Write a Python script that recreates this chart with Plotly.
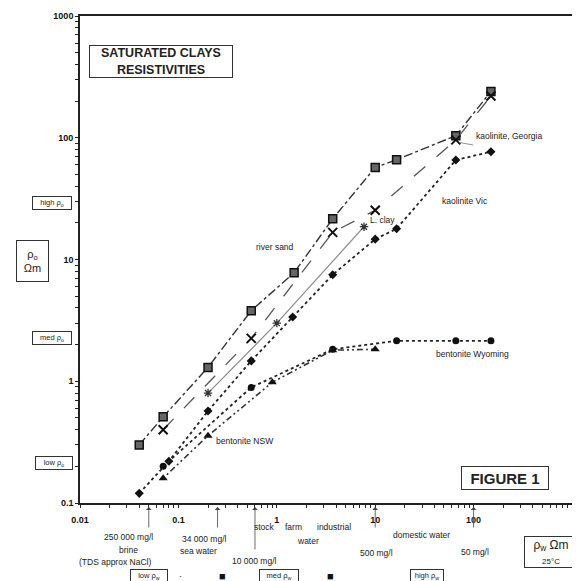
import plotly.graph_objects as go
import math

# ---------------- data ----------------
x_sand = [0.04, 0.07, 0.2, 0.55, 1.5, 3.7, 10, 16.5, 66, 150]
y_sand = [0.30, 0.51, 1.3, 3.8, 7.8, 21.6, 57, 66, 104, 240]

x_geo = [0.07, 0.55, 3.7, 10, 66, 150]
y_geo = [0.40, 2.25, 16.7, 25.4, 96, 220]

x_lclay = [0.2, 1.0, 7.7]
y_lclay = [0.8, 3.0, 18.6]

x_kvic = [0.04, 0.08, 0.2, 0.55, 1.45, 3.7, 10, 16.5, 66, 150]
y_kvic = [0.12, 0.22, 0.57, 1.47, 3.37, 7.5, 14.7, 17.9, 65.6, 76.7]

x_bwy = [0.07, 0.55, 3.7, 16.5, 66, 150]
y_bwy = [0.20, 0.89, 1.83, 2.15, 2.15, 2.15]

x_bnsw = [0.07, 0.2, 0.9, 3.7, 10]
y_bnsw = [0.16, 0.357, 0.98, 1.8, 1.83]

x_decades = [0.01, 0.1, 1, 10, 100, 1000]
x_decade_labels = ["0.01", "0.1", "1", "10", "100", "1000"]
y_decades = [0.1, 1, 10, 100, 1000]
y_decade_labels = ["0.1", "1", "10", "100", "1000"]

# salinity markers on the water-resistivity axis
arrow_x = [0.05, 0.25, 0.6, 10, 100]
arrow_long = [False, False, True, False, False]

FONT = "Liberation Sans, Arial, sans-serif"

# the page body adds an 8 px offset; the figure is sized so the plot
# lands where it is in the reference (580 x 581 window)
OFF = 8
W, H = 580 - OFF, 581 - OFF
ML, MR, MT, MB = 80 - OFF, 8, 16 - OFF, 78
PW = W - ML - MR
PH = H - MT - MB
AX_L = 80          # page px of plot left
AX_B = 503         # page px of plot bottom


def PX(px):
    return (px - AX_L) / PW


def PY(py):
    return (AX_B - py) / PH


def minor_vals(decades):
    return [d * m for d in decades[:-1] for m in range(2, 10)]


fig = go.Figure()

fig.add_trace(go.Scatter(
    x=x_sand, y=y_sand, mode="lines+markers", name="river sand",
    line=dict(color="#333333", width=1.4, dash="dashdot"),
    marker=dict(symbol="square", size=8, color="#666666",
                line=dict(color="#111111", width=1.5))))

fig.add_trace(go.Scatter(
    x=x_geo, y=y_geo, mode="lines+markers", name="kaolinite, Georgia",
    line=dict(color="#555555", width=1.3, dash="longdash"),
    marker=dict(symbol="x-thin-open", size=9, color="#111111",
                line=dict(color="#111111", width=2))))

fig.add_trace(go.Scatter(
    x=x_lclay, y=y_lclay, mode="lines+markers", name="L. clay",
    line=dict(color="#8a8a8a", width=1.2),
    marker=dict(symbol="asterisk-open", size=7, color="#333333",
                line=dict(color="#333333", width=1.3))))

fig.add_trace(go.Scatter(
    x=x_kvic, y=y_kvic, mode="lines+markers", name="kaolinite Vic",
    line=dict(color="#222222", width=1.8, dash="dot"),
    marker=dict(symbol="diamond", size=7, color="#111111")))

fig.add_trace(go.Scatter(
    x=x_bwy, y=y_bwy, mode="lines+markers", name="bentonite Wyoming",
    line=dict(color="#222222", width=1.8, dash="dot"),
    marker=dict(symbol="circle", size=7, color="#111111")))

fig.add_trace(go.Scatter(
    x=x_bnsw, y=y_bnsw, mode="lines+markers", name="bentonite NSW",
    line=dict(color="#333333", width=1.6, dash="2px,3px,2px,3px,6px,3px"),
    marker=dict(symbol="triangle-up", size=8, color="#111111")))

axis_common = dict(
    type="log", showgrid=False, zeroline=False,
    showline=True, linecolor="#222222", linewidth=1.6, mirror=True,
    ticks="outside", ticklen=3, tickwidth=1, tickcolor="#222222",
    tickmode="array", tickangle=0, automargin=False,
    tickfont=dict(family=FONT, size=9, color="#111111", weight="bold"),
)

fig.update_xaxes(range=[-2, 3], tickvals=x_decades, ticktext=x_decade_labels,
                 ticklabelstandoff=4,
                 minor=dict(tickmode="array", tickvals=minor_vals(x_decades),
                            ticks="outside", ticklen=3, tickwidth=1,
                            tickcolor="#222222", showgrid=False),
                 **axis_common)
fig.update_yaxes(range=[-1, 3], tickvals=y_decades, ticktext=y_decade_labels,
                 minor=dict(tickmode="array", tickvals=minor_vals(y_decades),
                            ticks="outside", ticklen=3, tickwidth=1,
                            tickcolor="#222222", showgrid=False),
                 **axis_common)

ann = []


def text(px, py, s, size=9, bold=False, border=False, color="#222222",
         xanchor="center", yanchor="middle", pad=2, w=None, h=None, align="center"):
    d = dict(x=PX(px), y=PY(py), xref="paper", yref="paper", text=s,
             showarrow=False, xanchor=xanchor, yanchor=yanchor, align=align,
             font=dict(family=FONT, size=size, color=color,
                       weight="bold" if bold else "normal"))
    if border:
        d.update(bordercolor="#333333", borderwidth=1, borderpad=pad,
                 bgcolor="white")
    if w:
        d["width"] = w
    if h:
        d["height"] = h
    ann.append(d)


# title / figure boxes
text(161, 61.5, "SATURATED CLAYS<br>RESISTIVITIES", size=12.5, bold=True,
     border=True, w=140, h=29, pad=1)
text(505, 477.5, "FIGURE 1", size=15, bold=True, border=True, w=82, h=18, pad=2)

# series labels
text(275, 247, "river sand", size=8.5)
text(382, 220, "L. clay", size=8.5)
text(509, 136, "kaolinite, Georgia", size=8.5)
text(465, 201, "kaolinite Vic", size=8.5)
text(472, 354, "bentonite Wyoming", size=8.5)
text(244, 441, "bentonite NSW", size=8.5)

# y-axis side boxes
text(52, 203.5, "high ρ<sub>o</sub>", size=7.5, border=True, w=36, h=10, pad=1)
text(51.5, 337.5, "med ρ<sub>o</sub>", size=7.5, border=True, w=36, h=10, pad=1)
text(53.5, 462.5, "low ρ<sub>o</sub>", size=7.5, border=True, w=34, h=10, pad=1)
text(32.5, 260.5, "ρ<sub>o</sub><br>Ωm", size=11, border=True, w=29, h=38, pad=1)

# x-axis unit box
text(551, 552, "ρ<sub>w</sub> Ωm<br><span style='font-size:8px'>25°C</span>",
     size=12, border=True, w=50, h=28, pad=1)

# salinity notes below the axis
text(128, 537, "250 000 mg/l", size=8.5)
text(128, 549.5, "brine", size=8.5)
text(115, 562, "(TDS approx NaCl)", size=8.5)
text(204, 538.5, "34 000 mg/l", size=8.5)
text(198, 551, "sea water", size=8.5)
text(254, 561, "10 000 mg/l", size=8.5)
text(264, 527, "stock", size=8.5)
text(293, 527, "farm", size=8.5)
text(334, 527, "industrial", size=8.5)
text(308, 541, "water", size=8.5)
text(421, 535, "domestic water", size=8.5)
text(376, 552.5, "500 mg/l", size=8.5)
text(475, 552, "50 mg/l", size=8.5)

# bottom legend row (cut by the page edge, as in the reference)
text(149, 569, "low ρ<sub>w</sub>", size=7.5, border=True, yanchor="top", w=34, h=10, pad=1)
text(180, 576, "·", size=9)
text(222, 576, "■", size=11, color="#111111")
text(279, 569, "med ρ<sub>w</sub>", size=7.5, border=True, yanchor="top", w=36, h=10, pad=1)
text(330, 576, "■", size=11, color="#111111")
text(427, 569, "high ρ<sub>w</sub>", size=7.5, border=True, yanchor="top", w=30, h=10, pad=1)

# upward arrows on the water-resistivity axis
for xa, lg in zip(arrow_x, arrow_long):
    ann.append(dict(x=math.log10(xa), y=PY(507), xref="x", yref="paper",
                    text="", showarrow=True, ax=0, ay=(44 if lg else 22),
                    arrowhead=1, arrowsize=1.2, arrowwidth=0.8,
                    arrowcolor="#444444"))

# arrow pointing to the kaolinite Georgia point
ann.append(dict(x=math.log10(66) + 0.03, y=math.log10(96) - 0.02, xref="x", yref="y",
                text="", showarrow=True, ax=16, ay=3, arrowhead=0,
                arrowwidth=0.8, arrowcolor="#777777"))

fig.update_layout(
    width=W, height=H,
    margin=dict(l=ML, r=MR, t=MT, b=MB),
    paper_bgcolor="white", plot_bgcolor="white",
    showlegend=False,
    annotations=ann,
    font=dict(family=FONT),
)

fig.write_html("out.html")
